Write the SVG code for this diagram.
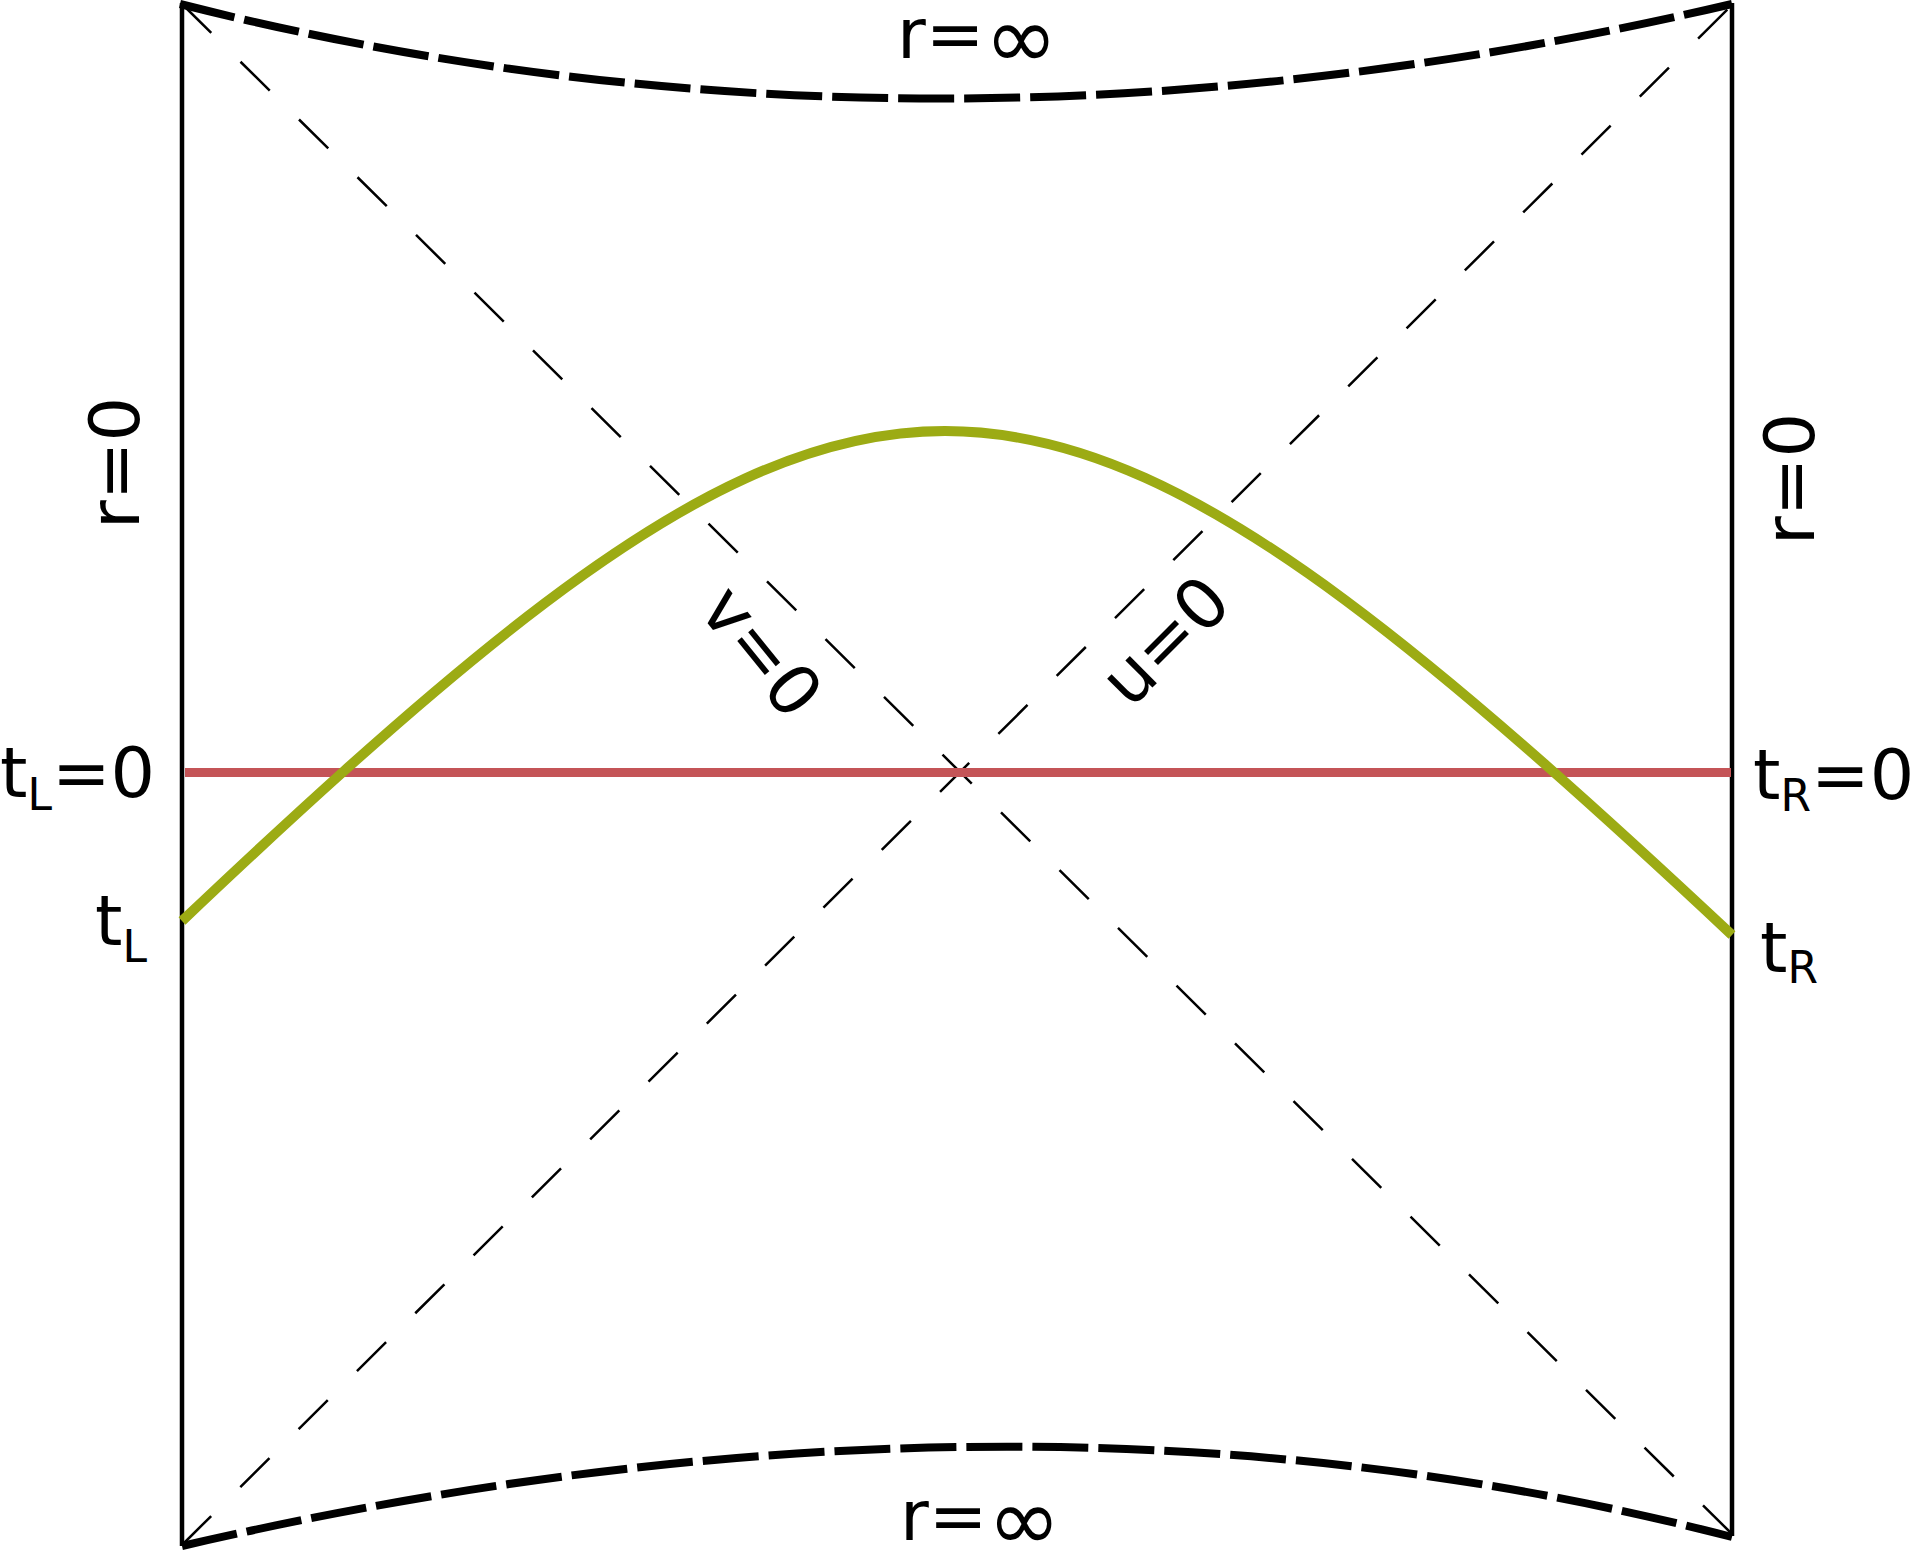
<svg xmlns="http://www.w3.org/2000/svg" width="1913" height="1554" viewBox="0 0 1913 1554">
<style>
text{font-family:"DejaVu Sans","Liberation Sans",sans-serif;font-size:70px;fill:#000}
.sub{font-size:44px}
.inf{font-size:88px}
.edge{fill:none;stroke:#000;stroke-width:4.5}
.bound{fill:none;stroke:#000;stroke-width:8;stroke-dasharray:56 10}
.diag{fill:none;stroke:#000;stroke-width:2.5;stroke-dasharray:41.1 41.1}
</style>
<rect width="1913" height="1554" fill="#fff"/>
<g id="connectors">
<line id="left-boundary" class="edge" x1="182" y1="3" x2="182" y2="1546"/>
<line id="right-boundary" class="edge" x1="1732" y1="3" x2="1732" y2="1536"/>
<path id="top-infinity" class="bound" d="M180,4 Q925,193 1732,4"/>
<path id="bottom-infinity" class="bound" d="M182,1546 Q1020,1352 1732,1537"/>
<line id="v0-line" class="diag" x1="182" y1="4" x2="1732" y2="1534"/>
<line id="u0-line" class="diag" x1="182" y1="1545" x2="1733" y2="4"/>
<line id="t0-slice" x1="185" y1="772.5" x2="1731" y2="772.5" stroke="#c45457" stroke-width="9"/>
<path id="geodesic" fill="none" stroke="#9cab14" stroke-width="10" d="M182,921 C236.3,869.5 290.7,818.8 345,770.1 C411.7,710.3 478.3,653.3 545,603 C611.7,552.7 678.3,509.1 745,478.6 C811.7,448.1 878.3,431 945,431 C1011.7,431 1078.3,447.8 1145,477.8 C1211.7,507.8 1278.3,550.5 1345,600 C1411.7,649.5 1478.3,705.5 1545,764.3 C1607.3,819.2 1669.7,876.6 1732,935"/>
</g>
<g id="label-top"><text x="897" y="58">r=<tspan class="inf" dy="10">∞</tspan></text></g>
<g id="label-bottom"><text x="900" y="1540">r=<tspan class="inf" dy="10">∞</tspan></text></g>
<g id="label-left-r0"><text transform="translate(139,529) rotate(-90)">r=0</text></g>
<g id="label-right-r0"><text transform="translate(1814,545) rotate(-90)">r=0</text></g>
<g id="label-tL0"><text x="0" y="797">t<tspan class="sub" dy="13">L</tspan><tspan dy="-13">=0</tspan></text></g>
<g id="label-tL"><text x="95" y="945">t<tspan class="sub" dy="17">L</tspan></text></g>
<g id="label-tR0"><text x="1753" y="799">t<tspan class="sub" dy="12">R</tspan><tspan dy="-12">=0</tspan></text></g>
<g id="label-tR"><text x="1760" y="972">t<tspan class="sub" dy="11">R</tspan></text></g>
<g id="label-v0"><text transform="translate(697.3,610.5) rotate(51)">v=0</text></g>
<g id="label-u0"><text transform="translate(1130,710) rotate(-45)">u=0</text></g>
</svg>
